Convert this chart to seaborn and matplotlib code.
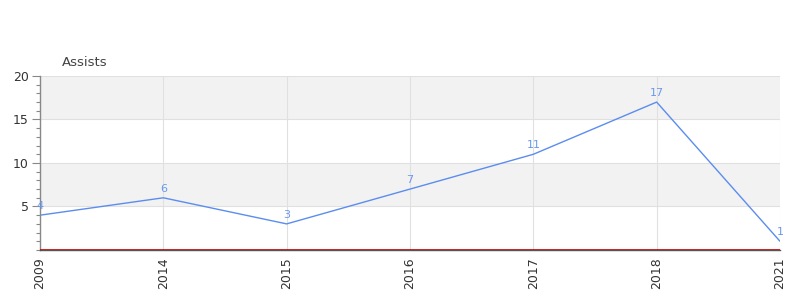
import matplotlib
matplotlib.use("Agg")
import matplotlib.pyplot as plt
import seaborn as sns
import pandas as pd
from matplotlib.ticker import MultipleLocator

years = ["2009", "2014", "2015", "2016", "2017", "2018", "2021"]
assists = [4, 6, 3, 7, 11, 17, 1]
yticks = [5, 10, 15, 20]

df = pd.DataFrame({"year": years, "assists": assists})

sns.set_theme(style="white")
plt.rcParams['font.family'] = ['DejaVu Sans']

fig = plt.figure(figsize=(8, 3), dpi=100)
ax = fig.add_axes([0.05, 0.1667, 0.925, 0.58])

line_color = "#5b8def"
sns.lineplot(data=df, x="year", y="assists", ax=ax, color=line_color, lw=1, sort=False)

# bands
for lo, hi in [(5, 10), (15, 20)]:
    ax.axhspan(lo, hi, color="#f2f2f2", zorder=0, lw=0)
for y in yticks:
    ax.axhline(y, color="#e0e0e0", lw=0.8, zorder=0.5)
for i in range(len(years)):
    ax.axvline(i, color="#e0e0e0", lw=0.8, zorder=0.5)

for i, v in enumerate(assists):
    ax.annotate(str(v), (i, v), xytext=(0, 3), textcoords="offset points",
                ha="center", va="bottom", fontsize=8, color="#6a98ee")

ax.axhline(0, color="#cc0000", lw=1.2, zorder=3)

ax.set_xlim(0, len(years) - 1)
ax.set_ylim(0, 20)
ax.set_yticks(yticks)
ax.yaxis.set_minor_locator(MultipleLocator(1))
ax.tick_params(axis="y", which="major", length=6, width=0.8, color="#888888",
               labelsize=9, labelcolor="#333333", left=True, pad=2)
ax.tick_params(axis="y", which="minor", length=3, width=0.8, color="#888888", left=True)
ax.tick_params(axis="x", length=0, labelsize=9, labelcolor="#333333", rotation=90, pad=5)
ax.set_xlabel("")
ax.set_ylabel("")

for s in ["top", "right"]:
    ax.spines[s].set_visible(False)
ax.spines["left"].set_color("#888888")
ax.spines["left"].set_linewidth(1)
ax.spines["bottom"].set_color("#555555")
ax.spines["bottom"].set_linewidth(1)

fig.text(62 / 800, 1 - 66 / 300, "Assists", fontsize=9.5, color="#444444",
         ha="left", va="baseline")

fig.savefig("out.png", dpi=100)
